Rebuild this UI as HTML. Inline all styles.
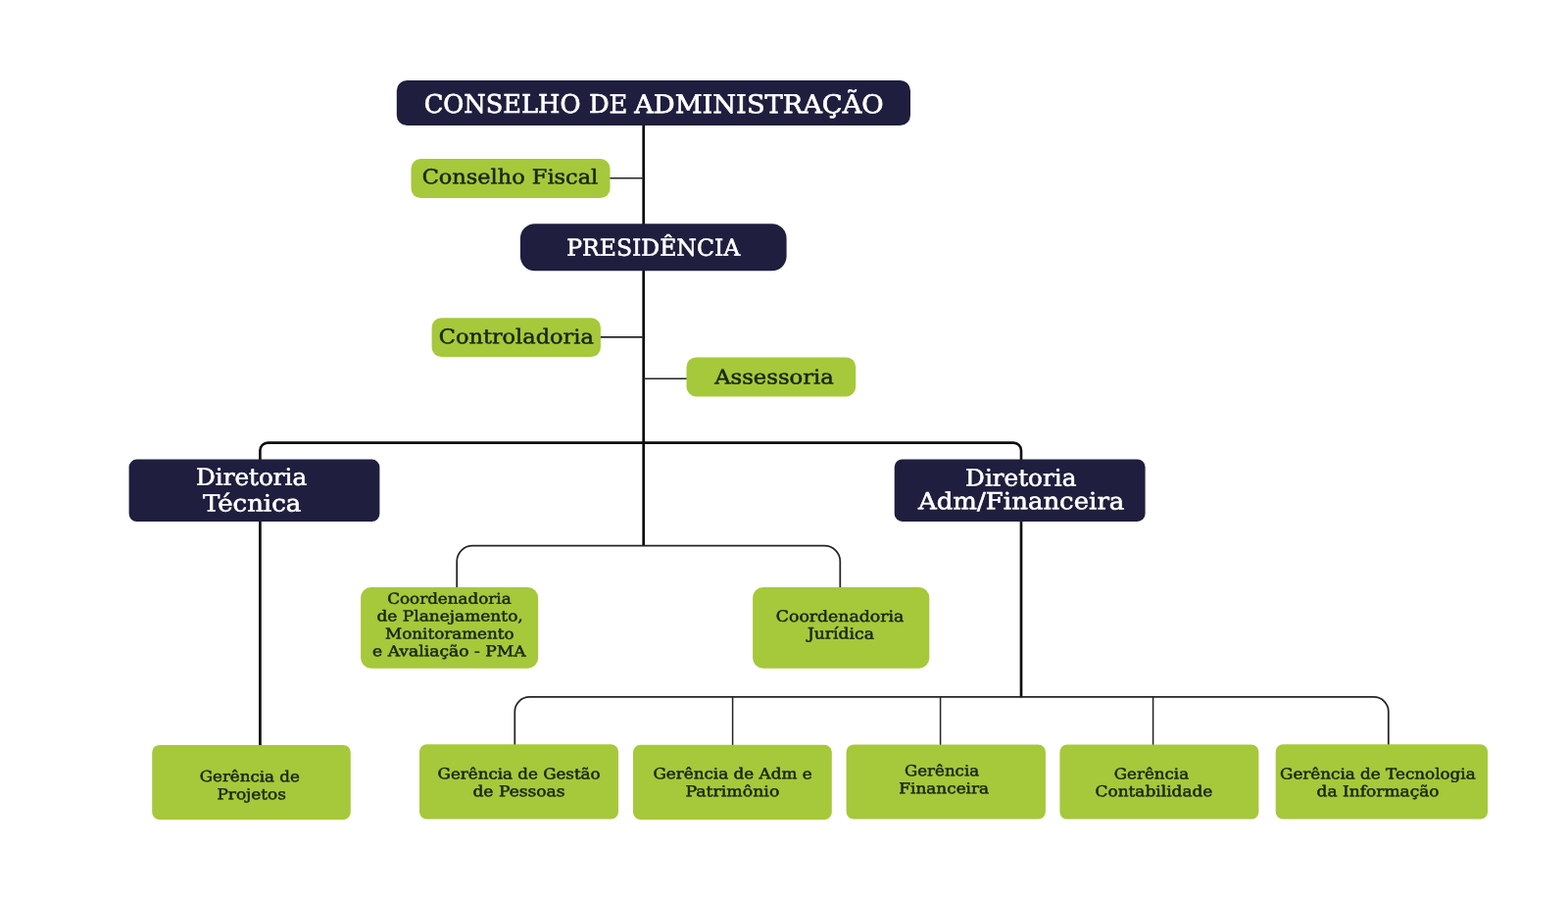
<!DOCTYPE html>
<html lang="pt-BR">
<head>
<meta charset="utf-8">
<title>Organograma</title>
<style>
html,body{margin:0;padding:0;background:#fff;}
body{width:1600px;height:918px;overflow:hidden;}
svg{display:block;will-change:transform;}
text{text-rendering:geometricPrecision;font-family:"DejaVu Serif","Liberation Serif",serif;font-weight:400;white-space:pre;}
.w{fill:#fff;stroke:#fff;}
.d{fill:#172716;stroke:#172716;}
text{stroke-linejoin:round;}
.ln{fill:none;stroke:#161616;stroke-linecap:butt;stroke-linejoin:round;}
</style>
</head>
<body>
<svg width="1600" height="918" viewBox="0 0 1600 918" role="img" aria-label="Organograma">
<rect x="0" y="0" width="1600" height="918" fill="#ffffff"/>
<g class="ln">
<path d="M656.7 127 V557" stroke="#0c0c0c" stroke-width="2.7"/>
<path d="M622 181.7 H657" stroke="#242424" stroke-width="1.6"/>
<path d="M612 343.9 H657" stroke="#242424" stroke-width="1.6"/>
<path d="M657 386.3 H701" stroke="#242424" stroke-width="1.6"/>
<path d="M265.4 470 V459.6 A8 8 0 0 1 273.4 451.6 H1034 A8 8 0 0 1 1042 459.6 V470" stroke="#0c0c0c" stroke-width="2.6"/>
<path d="M265.4 530 V761" stroke="#0c0c0c" stroke-width="2.7"/>
<path d="M1042.0 530 V711.5" stroke="#0c0c0c" stroke-width="2.7"/>
<path d="M466.2 600 V572.6 A16 16 0 0 1 482.2 556.6 H841.3 A16 16 0 0 1 857.3 572.6 V600" stroke="#242424" stroke-width="1.75"/>
<path d="M525.3 761 V725.9 A15 15 0 0 1 540.3 710.9 H1401.8 A15 15 0 0 1 1416.8 725.9 V761" stroke="#242424" stroke-width="1.75"/>
<path d="M747.6 711 V761" stroke="#242424" stroke-width="1.5"/>
<path d="M959.6 711 V761" stroke="#242424" stroke-width="1.5"/>
<path d="M1176.6 711 V761" stroke="#242424" stroke-width="1.5"/>
</g>
<g>
<rect x="404.8" y="82" width="524.2" height="46" rx="10.5" ry="10.5" fill="#1f1e3e"/>
<rect x="419.5" y="162.1" width="203" height="39.9" rx="9.8" ry="9.8" fill="#a6c83b"/>
<rect x="530.9" y="228.2" width="271.7" height="48.1" rx="15" ry="15" fill="#1f1e3e"/>
<rect x="440.6" y="324.2" width="172.3" height="39.8" rx="9.8" ry="9.8" fill="#a6c83b"/>
<rect x="700.5" y="364.5" width="172.7" height="39.9" rx="9.8" ry="9.8" fill="#a6c83b"/>
<rect x="131.6" y="468.6" width="255.8" height="63.4" rx="8" ry="8" fill="#1f1e3e"/>
<rect x="912.7" y="468.5" width="255.9" height="63.4" rx="8" ry="8" fill="#1f1e3e"/>
<rect x="368.1" y="599.1" width="181" height="82.6" rx="10.5" ry="10.5" fill="#a6c83b"/>
<rect x="768.1" y="599.1" width="180.2" height="82.6" rx="10.5" ry="10.5" fill="#a6c83b"/>
<rect x="155.2" y="759.9" width="202.6" height="76.1" rx="7.5" ry="7.5" fill="#a6c83b"/>
<rect x="428" y="759.3" width="203" height="76.1" rx="7.5" ry="7.5" fill="#a6c83b"/>
<rect x="646" y="759.7" width="202.8" height="76.2" rx="7.5" ry="7.5" fill="#a6c83b"/>
<rect x="863.6" y="759.5" width="203.3" height="75.9" rx="7.5" ry="7.5" fill="#a6c83b"/>
<rect x="1081.4" y="759.6" width="203" height="76" rx="7.5" ry="7.5" fill="#a6c83b"/>
<rect x="1301.7" y="759.3" width="216.4" height="76.1" rx="7.5" ry="7.5" fill="#a6c83b"/>
</g>
<g>
<text class="w" transform="rotate(0.05 667.15 115.18)" y="115.18" font-size="25.99" stroke-width="0.65"><tspan x="432.68" textLength="159.82" lengthAdjust="spacingAndGlyphs">CONSELHO</tspan> <tspan x="600.9" textLength="39.43" lengthAdjust="spacingAndGlyphs">DE</tspan> <tspan x="647.18" textLength="254.51" lengthAdjust="spacingAndGlyphs">ADMINISTRAÇÃO</tspan></text>
<text class="d" transform="rotate(0.05 520.75 187.34)" x="430.7" y="187.34" font-size="20.42" stroke-width="0.51" textLength="179.52" lengthAdjust="spacingAndGlyphs">Conselho Fiscal</text>
<text class="w" transform="rotate(0.05 667.45 260.81)" x="578.2" y="260.81" font-size="23.47" stroke-width="0.59" textLength="176.98" lengthAdjust="spacingAndGlyphs">PRESIDÊNCIA</text>
<text class="d" transform="rotate(0.05 527.1 350.34)" x="447.8" y="350.34" font-size="20.42" stroke-width="0.51" textLength="157.98" lengthAdjust="spacingAndGlyphs">Controladoria</text>
<text class="d" transform="rotate(0.05 789.65 391.44)" x="729.19" y="391.44" font-size="20.42" stroke-width="0.51" textLength="121.7" lengthAdjust="spacingAndGlyphs">Assessoria</text>
<text class="w" transform="rotate(0.05 256.95 494.8)" x="200.04" y="494.8" font-size="23.74" stroke-width="0.59" textLength="113.17" lengthAdjust="spacingAndGlyphs">Diretoria</text>
<text class="w" transform="rotate(0.05 256.85 521.45)" x="206.95" y="521.45" font-size="23.74" stroke-width="0.59" textLength="100.28" lengthAdjust="spacingAndGlyphs">Técnica</text>
<text class="w" transform="rotate(0.05 1042.1 495.5)" x="985.13" y="495.5" font-size="23.74" stroke-width="0.59" textLength="113.27" lengthAdjust="spacingAndGlyphs">Diretoria</text>
<text class="w" transform="rotate(0.05 1041.7 519.3)" x="936.95" y="519.3" font-size="23.74" stroke-width="0.59" textLength="210.39" lengthAdjust="spacingAndGlyphs">Adm/Financeira</text>
<text class="d" transform="rotate(0.05 458.65 615.84)" x="395.22" y="615.84" font-size="15.07" stroke-width="0.51" textLength="126.4" lengthAdjust="spacingAndGlyphs">Coordenadoria</text>
<text class="d" transform="rotate(0.05 458.75 633.54)" x="384.51" y="633.54" font-size="15.07" stroke-width="0.51" textLength="149.28" lengthAdjust="spacingAndGlyphs">de Planejamento,</text>
<text class="d" transform="rotate(0.05 458.85 651.59)" x="393.12" y="651.59" font-size="15.07" stroke-width="0.51" textLength="131.46" lengthAdjust="spacingAndGlyphs">Monitoramento</text>
<text class="d" transform="rotate(0.05 458.85 669.34)" x="380.11" y="669.34" font-size="15.07" stroke-width="0.51" textLength="156.47" lengthAdjust="spacingAndGlyphs">e Avaliação - PMA</text>
<text class="d" transform="rotate(0.05 857.25 633.93)" x="791.8" y="633.93" font-size="15.6" stroke-width="0.53" textLength="130.43" lengthAdjust="spacingAndGlyphs">Coordenadoria</text>
<text class="d" transform="rotate(0.05 856.95 651.63)" x="823.91" y="651.63" font-size="15.6" stroke-width="0.53" textLength="68.01" lengthAdjust="spacingAndGlyphs">Jurídica</text>
<text class="d" transform="rotate(0.05 254.85 797.14)" x="203.72" y="797.14" font-size="15.07" stroke-width="0.51" textLength="102.15" lengthAdjust="spacingAndGlyphs">Gerência de</text>
<text class="d" transform="rotate(0.05 256.75 815.24)" x="221.53" y="815.24" font-size="15.07" stroke-width="0.51" textLength="70.38" lengthAdjust="spacingAndGlyphs">Projetos</text>
<text class="d" transform="rotate(0.05 529.65 794.44)" x="446.62" y="794.44" font-size="15.07" stroke-width="0.51" textLength="165.96" lengthAdjust="spacingAndGlyphs">Gerência de Gestão</text>
<text class="d" transform="rotate(0.05 529.5 812.24)" x="482.41" y="812.24" font-size="15.07" stroke-width="0.51" textLength="94.2" lengthAdjust="spacingAndGlyphs">de Pessoas</text>
<text class="d" transform="rotate(0.05 747.55 794.34)" x="666.41" y="794.34" font-size="15.07" stroke-width="0.51" textLength="162.16" lengthAdjust="spacingAndGlyphs">Gerência de Adm e</text>
<text class="d" transform="rotate(0.05 747.4 812.24)" x="699.41" y="812.24" font-size="15.07" stroke-width="0.51" textLength="95.9" lengthAdjust="spacingAndGlyphs">Patrimônio</text>
<text class="d" transform="rotate(0.05 961.3 791.34)" x="923.02" y="791.34" font-size="15.07" stroke-width="0.51" textLength="76.09" lengthAdjust="spacingAndGlyphs">Gerência</text>
<text class="d" transform="rotate(0.05 963.45 809.34)" x="917.33" y="809.34" font-size="15.07" stroke-width="0.51" textLength="91.8" lengthAdjust="spacingAndGlyphs">Financeira</text>
<text class="d" transform="rotate(0.05 1175.2 794.54)" x="1136.82" y="794.54" font-size="15.07" stroke-width="0.51" textLength="76.29" lengthAdjust="spacingAndGlyphs">Gerência</text>
<text class="d" transform="rotate(0.05 1177.5 812.34)" x="1117.51" y="812.34" font-size="15.07" stroke-width="0.51" textLength="119.88" lengthAdjust="spacingAndGlyphs">Contabilidade</text>
<text class="d" transform="rotate(0.05 1406.1 794.54)" x="1306.02" y="794.54" font-size="15.07" stroke-width="0.51" textLength="199.69" lengthAdjust="spacingAndGlyphs">Gerência de Tecnologia</text>
<text class="d" transform="rotate(0.05 1406.1 812.34)" x="1343.61" y="812.34" font-size="15.07" stroke-width="0.51" textLength="124.99" lengthAdjust="spacingAndGlyphs">da Informação</text>
</g>
</svg>
</body>
</html>
